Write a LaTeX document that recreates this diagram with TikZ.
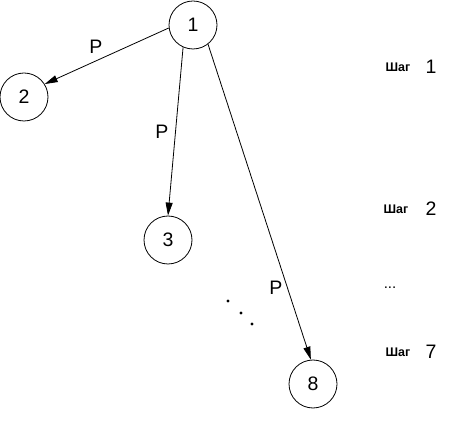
\documentclass[tikz,border=0pt]{standalone}
\usepackage{fontspec}
\setmainfont{Liberation Sans}
\usetikzlibrary{arrows.meta}

\begin{document}
\begin{tikzpicture}[x=1pt,y=1pt,font=\fontsize{19.5}{22}\selectfont,
n/.style={draw,circle,line width=.8pt,minimum size=48pt,inner sep=0pt},
a/.style={-{Triangle[length=13pt,width=7pt]},line width=.8pt},
st/.style={font=\fontsize{12.5}{14}\selectfont\bfseries,anchor=west}]
\useasboundingbox (0,0) rectangle (463,431);
\node[n](one) at (193,406){1};
\node[n](two) at (24,334){2};
\node[n](three) at (168,191){3};
\node[n](eight) at (313,47){8};
\draw[a](one.187)--(two.32);
\draw[a](one.246)--(three.north);
\draw[a](one.308)--(eight.95);
\node(p1) at (96,384){P};
\node(p2) at (162,299){P};
\node(p3) at (276,143){P};
\foreach \x/\y [count=\i] in {228/130,241/118,252/107}
  \fill (\x,\y) circle (1.7pt);
\node[st](s1) at (382,364){Шаг};
\node(k1) at (431,364){1};
\node[st](s2) at (380,222){Шаг};
\node(k2) at (431,222){2};
\node(dd) at (390,143){\fontsize{15}{17}\selectfont...};
\node[st](s7) at (382,79){Шаг};
\node(k7) at (431,79){7};
\end{tikzpicture}
\end{document}
